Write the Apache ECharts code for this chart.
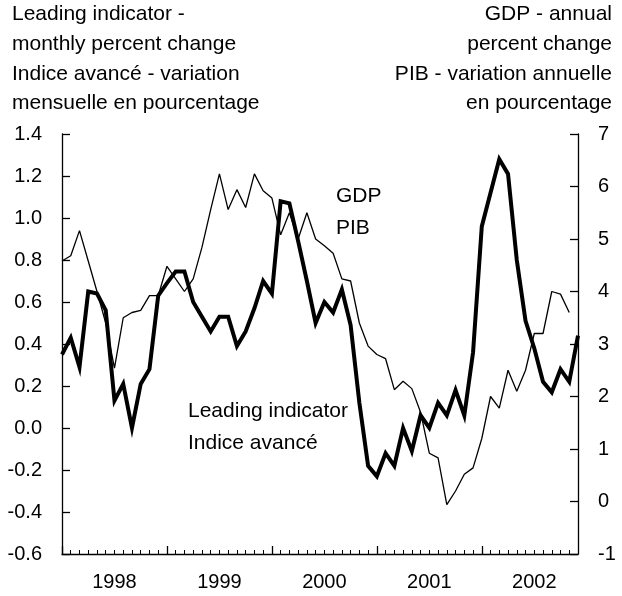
<!DOCTYPE html>
<html>
<head>
<meta charset="utf-8">
<script src="https://cdn.jsdelivr.net/npm/echarts@6/dist/echarts.min.js"></script>
<style>
html,body{margin:0;padding:0;background:#fff;}
#c{width:622px;height:596px;}
</style>
</head>
<body>
<div id="c"></div>
<script>
const yearLabels = ['1998', '1999', '2000', '2001', '2002'];
const leading = [0.35,0.43,0.29,0.65,0.64,0.56,0.13,0.21,0.00,0.21,0.28,0.63,
  0.69,0.745,0.745,0.60,0.53,0.46,0.53,0.53,0.39,0.46,0.57,0.70,
  0.64,1.08,1.07,0.89,0.70,0.50,0.60,0.55,0.66,0.49,0.12,-0.18,
  -0.23,-0.12,-0.18,0.00,-0.11,0.06,0.00,0.12,0.06,0.18,0.06,0.36,
  0.96,1.12,1.28,1.21,0.80,0.51,0.38,0.22,0.17,0.28,0.22,0.44];
const gdp = [4.58,4.68,5.16,4.58,4.0,3.4,2.54,3.5,3.6,3.64,3.92,3.92,
  4.48,4.24,4.0,4.24,4.84,5.56,6.24,5.56,5.94,5.6,6.24,5.92,
  5.78,5.08,5.5,5.0,5.5,5.0,4.87,4.73,4.24,4.2,3.4,2.96,
  2.8,2.72,2.13,2.29,2.15,1.7,0.92,0.83,-0.06,0.2,0.52,0.64,
  1.2,2.0,1.78,2.5,2.1,2.5,3.2,3.2,4.0,3.95,3.6];
const leftTitle = ['Leading indicator -', 'monthly percent change', 'Indice avancé - variation', 'mensuelle en pourcentage'];
const rightTitle = ['GDP - annual', 'percent change', 'PIB - variation annuelle', 'en pourcentage'];
const gdpLabel = ['GDP', 'PIB'];
const liLabel = ['Leading indicator', 'Indice avancé'];

const months = [];
yearLabels.forEach(y => { for (let m = 1; m <= 12; m++) months.push(y + '-' + (m < 10 ? '0' + m : m)); });

const FONT = "'Liberation Sans', Arial, sans-serif";
const FS = 21;
const AFS = 20;
const txt = (t, pos, top) => Object.assign({type: 'text', top: top, style: {text: t, fill: '#000', font: FS + 'px ' + FONT}}, pos);
const graphics = [];
leftTitle.forEach((t, i) => graphics.push(txt(t, {left: 12}, 4 + i * 29.7)));
rightTitle.forEach((t, i) => graphics.push(txt(t, {right: 10}, 4 + i * 29.7)));
gdpLabel.forEach((t, i) => graphics.push(txt(t, {left: 336}, 186 + i * 32)));
liLabel.forEach((t, i) => graphics.push(txt(t, {left: 188}, 401 + i * 32)));

const chart = echarts.init(document.getElementById('c'), null, {renderer: 'canvas'});
chart.setOption({
  backgroundColor: '#fff',
  animation: false,
  textStyle: {fontFamily: FONT},
  grid: {left: 62, right: 44, top: 134, bottom: 42, containLabel: false},
  xAxis: [{
    type: 'category', data: months, boundaryGap: false,
    axisLine: {onZero: false, lineStyle: {color: '#000', width: 1.3}},
    axisTick: {inside: true, length: 4, interval: 0, lineStyle: {color: '#000', width: 1}},
    axisLabel: {
      interval: (i) => i % 12 === 6,
      formatter: (v) => v.slice(0, 4),
      color: '#000', fontSize: AFS, fontFamily: FONT, margin: 18
    },
    splitLine: {show: false}
  }, {
    type: 'category', data: months, boundaryGap: false, position: 'bottom',
    axisLine: {show: false, onZero: false},
    axisTick: {inside: true, length: 8, interval: (i) => i % 12 === 0, lineStyle: {color: '#000', width: 1.3}},
    axisLabel: {show: false},
    splitLine: {show: false}
  }],
  yAxis: [{
    type: 'value', min: -0.6, max: 1.4, interval: 0.2, position: 'left',
    axisLine: {show: true, onZero: false, lineStyle: {color: '#000', width: 1.3}},
    axisTick: {show: true, inside: true, length: 8, lineStyle: {color: '#000', width: 1.3}},
    axisLabel: {color: '#000', fontSize: AFS, fontFamily: FONT, margin: 20, formatter: (v) => (Math.round(v * 10) / 10).toFixed(1)},
    splitLine: {show: false}
  }, {
    type: 'value', min: -1, max: 7, interval: 1, position: 'right',
    axisLine: {show: true, onZero: false, lineStyle: {color: '#000', width: 1.3}},
    axisTick: {show: true, inside: true, length: 8, lineStyle: {color: '#000', width: 1.3}},
    axisLabel: {color: '#000', fontSize: AFS, fontFamily: FONT, margin: 20},
    splitLine: {show: false}
  }],
  series: [{
    name: 'GDP', type: 'line', data: gdp, yAxisIndex: 1, xAxisIndex: 0,
    showSymbol: false, symbol: 'none',
    lineStyle: {color: '#000', width: 1.3}, z: 2
  }, {
    name: 'Leading indicator', type: 'line', data: leading, yAxisIndex: 0, xAxisIndex: 0,
    showSymbol: false, symbol: 'none',
    lineStyle: {color: '#000', width: 4, join: 'miter'}, z: 3
  }],
  graphic: graphics
});
</script>
</body>
</html>
